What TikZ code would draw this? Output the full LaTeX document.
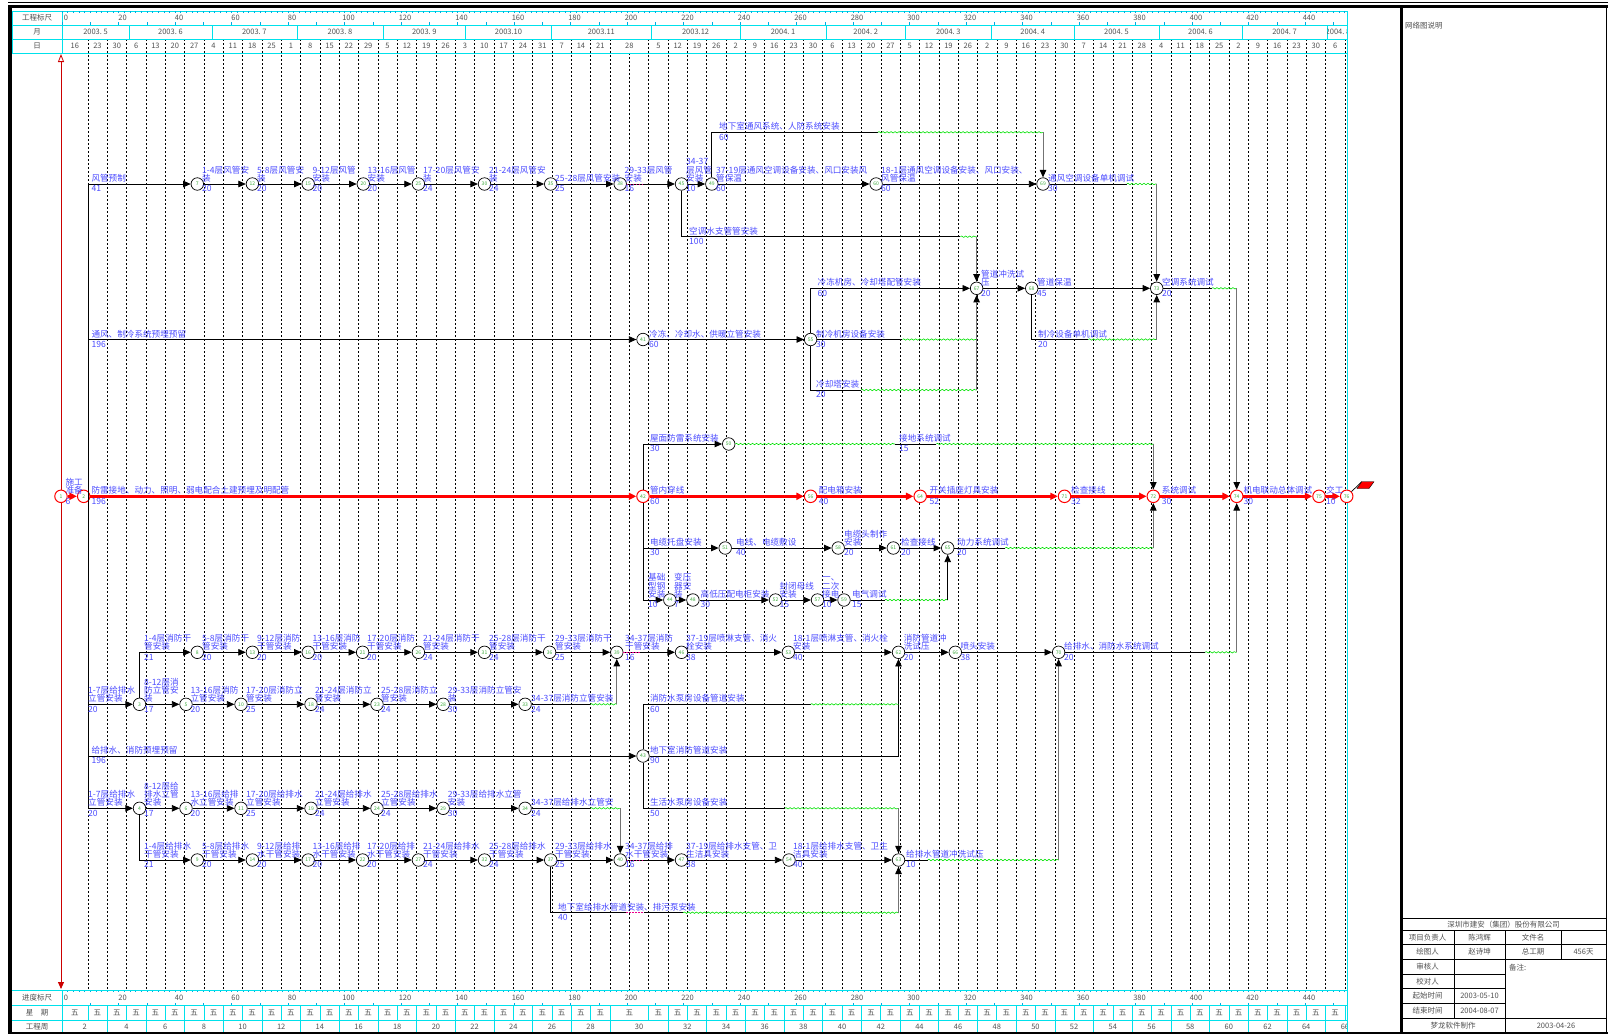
\documentclass[tikz,border=0pt]{standalone}
\usepackage{fontspec}
\setmainfont{Noto Sans CJK SC}
\usetikzlibrary{arrows.meta,decorations.pathmorphing}
\definecolor{lblblue}{RGB}{75,75,255}
\definecolor{numgreen}{RGB}{60,170,60}
\definecolor{slackgreen}{RGB}{0,225,0}
\definecolor{rulecyan}{RGB}{0,225,235}
\definecolor{tickblue}{RGB}{0,170,225}
\definecolor{headgray}{RGB}{80,80,80}
\newcommand\lblfont{\fontsize{8.6}{8.4}\selectfont}
\tikzset{
  evt/.style={circle,draw,fill=white,line width=0.7pt,inner sep=0pt,minimum size=12.5pt,
    font=\fontsize{5}{5}\selectfont,text=numgreen},
  evtr/.style={evt,draw=red,line width=1pt},
  job/.style={line width=0.8pt,-{Triangle[length=7.5pt,width=6.5pt]}},
  jobr/.style={red,line width=2.4pt,-{Triangle[length=7.5pt,width=7pt]}},
  virt/.style={line width=1pt,draw=black!55,-{Triangle[length=7.5pt,width=6.5pt,color=black]}},
  slack/.style={slackgreen,line width=0.6pt,decorate,decoration={snake,amplitude=0.7pt,segment length=4pt}},
  lag/.style={magenta,line width=0.8pt,dash pattern=on 1.5pt off 1.5pt},
  wk/.style={line width=0.5pt,dash pattern=on 2pt off 2pt},
  txt/.style={font=\lblfont,text=lblblue,inner sep=0pt,align=left},
  hd/.style={font=\fontsize{7.5}{8}\selectfont,text=headgray,inner sep=0pt},
}
% label above the arrow and duration below it
\newcommand\act[5]{%
  \node[txt,anchor=south west] (l#1) at (#2,#3-1.5) {#4};
  \node[txt,anchor=north west] (d#1) at (#2,#3+1.5) {#5};}

\begin{document}
\begin{tikzpicture}[x=1pt,y=-1pt]
\useasboundingbox (0,0) rectangle (1608,1034);

% frame
\draw[line width=0.8pt] (8,2.5) -- (1608,2.5);
\draw[line width=3pt] (8,6) -- (1608,6);
\fill (7.6,5) rectangle (12,1034);
\draw[line width=3pt] (1401,6) -- (1401,1034);
\draw[line width=0.6pt] (1606.5,6) -- (1606.5,1034);
\draw[line width=2pt] (8,1033) -- (1608,1033);

% week grid
\foreach \j in {0,...,65}{
  \pgfmathsetmacro\ys{\j==28 ? 53 : 39}
  \draw[wk] ({87.8+19.34*\j},\ys) -- ({87.8+19.34*\j},990.5);
}

% top scale
\draw[rulecyan,line width=0.6pt] (12,11) rectangle (1347,53);
\draw[rulecyan,line width=0.6pt] (12,25) -- (1347,25) (12,39) -- (1347,39) (62,11) -- (62,53);
\node[hd] (h1) at (37,18) {工程标尺};
\node[hd] (h2) at (37,32) {月};
\node[hd] (h3) at (37,46) {日};
\begin{scope}
\clip (62,0) rectangle (1347,1034);
\foreach \d in {0,2,...,460}{
  \draw[tickblue,line width=0.4pt] ({62+2.825*\d},11) -- ++(0,1.8);
  \draw[tickblue,line width=0.4pt] ({62+2.825*\d},990.5) -- ++(0,1.8);
}
\foreach \d in {0,10,...,460}{
  \draw[tickblue,line width=0.4pt] ({62+2.825*\d},25) -- ++(0,-3);
  \draw[tickblue,line width=0.4pt] ({62+2.825*\d},1005.5) -- ++(0,-3);
}
\foreach \d [count=\i] in {0,20,...,460}{
  \node[hd] (rt\i) at ({66+2.825*\d},18) {\d};
  \node[hd] (rb\i) at ({66+2.825*\d},998) {\d};
}
\foreach \m in {129.1,211.8,296.8,383,465.6,551.4,651.2,740,826.1,905.3,991.4,1074,1158.8,1242.2,1327}
  \draw[rulecyan,line width=0.6pt] (\m,25) -- (\m,39);
\foreach \a/\b/\t [count=\i] in {62/129.1/{2003.~5},129.1/211.8/{2003.~6},211.8/296.8/{2003.~7},
    296.8/383/{2003.~8},383/465.6/{2003.~9},465.6/551.4/{2003.10},551.4/651.2/{2003.11},
    651.2/740/{2003.12},740/826.1/{2004.~1},826.1/905.3/{2004.~2},905.3/991.4/{2004.~3},
    991.4/1074/{2004.~4},1074/1158.8/{2004.~5},1158.8/1242.2/{2004.~6},1242.2/1327/{2004.~7}}
  \node[hd] (mo\i) at ({(\a+\b)/2},32) {\t};
\begin{scope}
\clip (1327.5,25) rectangle (1347,39);
\node[hd] (mo16) at (1338,32) {2004.~8};
\end{scope}
\foreach \t [count=\i from 0] in {16,23,30,6,13,20,27,4,11,18,25,1,8,15,22,29,5,12,19,26,
    3,10,17,24,31,7,14,21,28,5,12,19,26,2,9,16,23,30,6,13,20,27,5,12,19,26,2,9,16,23,30,
    7,14,21,28,4,11,18,25,2,9,16,23,30,6,13}{
  \pgfmathsetmacro\cx{\i==0 ? 74.9 : (\i==28 ? 629.3 : (\i<28 ? 78.13+19.34*\i : 78.13+19.34*(\i+1)))}
  \node[hd] (dy\i) at (\cx,46) {\t};
  \node[hd] (wd\i) at (\cx,1013) {五};
}
\foreach \j in {0,...,65}{
  \ifnum\j=28\else\draw[rulecyan,line width=0.6pt] ({87.8+19.34*\j},1005.5) -- ({87.8+19.34*\j},1020);\fi
}
\foreach \j in {1,3,...,27,30,32,...,64}
  \draw[rulecyan,line width=0.6pt] ({87.8+19.34*\j},1020) -- ({87.8+19.34*\j},1032);
\foreach \k in {1,...,33}{
  \pgfmathsetmacro\cx{\k==1 ? 84.6 : (\k<15 ? 87.8+38.68*(\k-1) : (\k==15 ? 639 : 87.8+19.34*(2*\k-1)))}
  \pgfmathtruncatemacro\w{2*\k}
  \node[hd] (gz\k) at (\cx,1026.5) {\w};
}
\end{scope}

% bottom scale
\draw[rulecyan,line width=0.6pt] (12,990.5) -- (1347,990.5) (12,1005.5) -- (1347,1005.5)
  (12,1020) -- (1347,1020) (62,990.5) -- (62,1032) (1347,11) -- (1347,1032);
\node[hd] (b1) at (37,998) {进度标尺};
\node[hd] (b2) at (37,1013) {星\quad 期};
\node[hd] (b3) at (37,1026.5) {工程周};

% progress line
\coordinate (pgTop) at (61,54);
\coordinate (pgBot) at (61,989);
\draw[red!80!black,line width=0.8pt,{Triangle[open,length=8pt,width=6pt]}-{Triangle[length=7pt,width=6pt]}] (pgTop) -- (pgBot);

% events
\foreach \n/\x/\y in {7/197.3/184,12/252.4/184,15/308.2/184,20/363.3/184,25/418.4/184,30/484.5/184,
    35/550.7/184,38/620.2/184,45/681.5/184,49/711.8/184,60/876.1/184,69/1043/184,
    67/976.6/288.3,68/1031.7/288.3,73/1156.7/288.3,41/643/339.5,55/810.6/339.5,
    50/728.7/444,51/725.2/548,58/838.2/548,61/893.3/548,65/947.7/548,
    44/669.8/600,48/692.9/600,52/775.5/600,57/817.5/600,59/844/600,
    8/197.3/652.3,13/252.4/652.3,16/308.2/652.3,21/362.6/652.3,26/418.4/652.3,31/484.5/652.3,
    36/549.6/652.3,39/616.8/652.3,46/681.5/652.3,53/788.3/652.3,62/898.5/652.3,66/955.3/652.3,
    70/1058.6/652.3,
    3/139.5/704.3,5/186/704.3,10/241/704.3,18/311/704.3,23/377/704.3,28/443.2/704.3,33/525.1/704.3,
    43/643/756,
    4/139.5/808.3,6/186/808.3,11/241/808.3,19/311/808.3,24/377/808.3,29/443.2/808.3,34/525.1/808.3,
    9/197.3/860,14/252.4/860,17/308.2/860,22/362.6/860,27/418.4/860,32/484.5/860,
    37/550.7/860,40/620.2/860,47/681.5/860,54/789/860,63/898.5/860}
  \node[evt] (n\n) at (\x,\y) {\n};
\foreach \n/\x in {1/61,2/83.7,42/643,56/810.6,64/920.2,71/1064.5,72/1153.3,74/1236.7,75/1319,76/1346.7}
  \node[evtr] (n\n) at (\x,496.3) {\n};

% trunk
\coordinate (tkA) at (88,184);
\coordinate (tkB) at (88,339.5);
\coordinate (tkC) at (88,704.3);
\coordinate (tkD) at (88,756);
\coordinate (tkZ) at (88,808.3);
\draw[line width=0.8pt] (tkA) -- (tkZ);
\draw[job] (tkA) -- (n7);
\draw[job] (tkB) -- (n41);
\draw[job] (tkC) -- (n3);
\draw[job] (tkD) -- (n43);
\draw[job] (tkZ) -- (n4);

% air ducts
\foreach \a/\b in {7/12,12/15,15/20,20/25,25/30,30/35,35/38,38/45,45/49,49/60,60/69,41/55,67/68,68/73}
  \draw[job] (n\a) -- (n\b);
\draw[lag] (n38.east) -- ++(17,0);
\coordinate (au1) at (877.8,132.3);
\coordinate (au2) at (1043,132.3);
\draw[line width=0.8pt] (n49) |- (au1);
\draw[slack] (au1) -- (au2);
\draw[virt] (au2) -- (n69);
\coordinate (ab1) at (1126.7,184);
\coordinate (ab2) at (1156.7,184);
\draw[line width=0.8pt] (n69) -- (ab1);
\draw[slack] (ab1) -- (ab2);
\draw[virt] (ab2) -- (n73);
\coordinate (aw1) at (960.4,236.7);
\coordinate (aw2) at (976.6,236.7);
\draw[line width=0.8pt] (n45) |- (aw1);
\draw[slack] (aw1) -- (aw2);
\draw[virt] (aw2) -- (n67);
\draw[job] (n55) |- (n67);
\coordinate (cj1) at (902.4,339.5);
\coordinate (cj2) at (976.6,339.5);
\draw[line width=0.8pt] (n55) -- (cj1);
\draw[slack] (cj1) -- (cj2);
\draw[virt] (cj2) -- (n67);
\coordinate (ct1) at (861,390);
\coordinate (ct2) at (976.6,390);
\draw[line width=0.8pt] (n55) |- (ct1);
\draw[slack] (ct1) -- (ct2);
\draw[line width=1pt,black!55] (ct2) -- (cj2);
\coordinate (zl1) at (1088.3,339.5);
\coordinate (zl2) at (1156.7,339.5);
\draw[line width=0.8pt] (n68) |- (zl1);
\draw[slack] (zl1) -- (zl2);
\draw[virt] (zl2) -- (n73);
\coordinate (kt1) at (1211.7,288.3);
\coordinate (kt2) at (1236.7,288.3);
\draw[line width=0.8pt] (n73) -- (kt1);
\draw[slack] (kt1) -- (kt2);
\draw[virt] (kt2) -- (n74);

% electrical
\foreach \a/\b in {1/2,2/42,42/56,56/64,64/71,71/72,72/74,74/75,75/76}
  \draw[jobr] (n\a) -- (n\b);
\draw[job] (n42) |- (n50);
\draw[job] (n42) |- (n51);
\draw[job] (n42) |- (n44);
\foreach \a/\b in {51/58,58/61,61/65,44/48,48/52,52/57,57/59}
  \draw[job] (n\a) -- (n\b);
\coordinate (jd0) at (895,444);
\coordinate (jd1) at (936.3,444);
\coordinate (jd2) at (1153.3,444);
\draw[slack] (n50.east) -- (jd0);
\draw[line width=0.8pt] (jd0) -- (jd1);
\draw[slack] (jd1) -- (jd2);
\draw[virt] (jd2) -- (n72);
\coordinate (dl1) at (1005.2,548);
\coordinate (dl2) at (1153.3,548);
\draw[line width=0.8pt] (n65) -- (dl1);
\draw[slack] (dl1) -- (dl2);
\draw[virt] (dl2) -- (n72);
\coordinate (dq1) at (884.7,600);
\coordinate (dq2) at (947.7,600);
\draw[line width=0.8pt] (n59) -- (dq1);
\draw[slack] (dq1) -- (dq2);
\draw[job] (dq2) -- (n65);
\coordinate (fp) at (1361.7,481.7);
\draw[line width=0.7pt] (n76) -- (fp);
\filldraw[fill=red,draw=black,line width=0.4pt] (1361.7,481.7) -- (1374,481.7) -- (1369,488.5) -- (1357,488.5) -- cycle;

% fire and water
\foreach \a/\b in {3/5,5/10,10/18,18/23,23/28,28/33,
    8/13,13/16,16/21,21/26,26/31,31/36,36/39,39/46,46/53,53/62,62/66,66/70,
    4/6,6/11,11/19,19/24,24/29,29/34,
    9/14,14/17,17/22,22/27,27/32,32/37,37/40,40/47,47/54,54/63}
  \draw[job] (n\a) -- (n\b);
\draw[job] (n3) |- (n8);
\draw[job] (n4) |- (n9);
\draw[lag] (n39.east) -- ++(17,0);
\draw[lag] (n40.east) -- ++(17,0);
\coordinate (xf1) at (590.3,704.3);
\coordinate (xf2) at (616.8,704.3);
\draw[line width=0.8pt] (n33) -- (xf1);
\draw[slack] (xf1) -- (xf2);
\draw[virt] (xf2) -- (n39);
\coordinate (xw1) at (590.3,808.3);
\coordinate (xw2) at (620.2,808.3);
\draw[line width=0.8pt] (n34) -- (xw1);
\draw[slack] (xw1) -- (xw2);
\draw[virt] (xw2) -- (n40);
\coordinate (gx1) at (1205,652.3);
\coordinate (gx2) at (1236.7,652.3);
\draw[line width=0.8pt] (n70) -- (gx1);
\draw[slack] (gx1) -- (gx2);
\draw[virt] (gx2) -- (n74);
\draw[job] (n43) -| (n62);
\coordinate (xs1) at (810.6,704.3);
\coordinate (xs2) at (898.5,704.3);
\draw[line width=0.8pt] (n43) |- (xs1);
\draw[slack] (xs1) -- (xs2);
\coordinate (sh1) at (784.8,808.3);
\coordinate (sh2) at (898.5,808.3);
\draw[line width=0.8pt] (n43) |- (sh1);
\draw[slack] (sh1) -- (sh2);
\draw[virt] (sh2) -- (n63);
\coordinate (gp1) at (927.7,860);
\coordinate (gp2) at (1058.6,860);
\draw[line width=0.8pt] (n63) -- (gp1);
\draw[slack] (gp1) -- (gp2);
\draw[virt] (gp2) -- (n70);
\coordinate (bs1) at (626.4,912.7);
\coordinate (bs2) at (643.6,912.7);
\coordinate (bs3) at (683.2,912.7);
\coordinate (bs4) at (898.5,912.7);
\draw[line width=0.8pt] (n37) |- (bs1);
\draw[lag] (bs1) -- (bs2);
\draw[line width=0.8pt] (bs2) -- (bs3);
\draw[slack] (bs3) -- (bs4);
\draw[virt] (bs4) -- (n63);

% labels
\act{fg}{91.3}{184}{风管预制}{41}
\act{7}{202}{184}{1-4层风管安\\装}{20}
\act{12}{257}{184}{5-8层风管安\\装}{20}
\act{15}{312.5}{184}{9-12层风管\\安装}{20}
\act{20}{367.5}{184}{13-16层风管\\安装}{20}
\act{25}{423}{184}{17-20层风管安\\装}{24}
\act{30}{489}{184}{21-24层风管安\\装}{24}
\act{35}{555}{184}{25-28层风管安装}{25}
\act{38}{624.5}{184}{29-33层风管\\安装}{16}
\act{45}{686}{184}{34-37\\层风管\\安装}{10}
\act{49}{716}{184}{37-19层通风空调设备安装、风口安装风\\管保温}{60}
\act{60}{881}{184}{18-1层通风空调设备安装、风口安装、\\风管保温}{60}
\act{69}{1048}{184}{通风空调设备单机调试}{30}
\act{49u}{719}{132.3}{地下室通风系统、人防系统安装}{60}
\act{45d}{689}{236.7}{空调水支管管安装}{100}
\act{55u}{817.5}{288.3}{冷冻机房、冷却塔配管安装}{60}
\act{67}{981}{288.3}{管道冲洗试\\压}{20}
\act{68}{1037}{288.3}{管道保温}{45}
\act{73}{1162}{288.3}{空调系统调试}{20}
\act{tf}{91.3}{339.5}{通风、制冷系统预埋预留}{196}
\act{41}{649}{339.5}{冷冻、冷却水、供暖立管安装}{60}
\act{55}{816}{339.5}{制冷机房设备安装}{30}
\act{68d}{1038}{339.5}{制冷设备单机调试}{20}
\act{55d}{816}{390}{冷却塔安装}{20}
\act{1}{65.4}{496.3}{施工\\准备}{6}
\act{2}{91.3}{496.3}{防雷接地、动力、照明、弱电配合土建预埋及明配管}{196}
\act{42}{649.8}{496.3}{管内穿线}{60}
\act{56}{818.6}{496.3}{配电箱安装}{40}
\act{64}{929.4}{496.3}{开关插座灯具安装}{52}
\act{71}{1071}{496.3}{检查接线}{32}
\act{72}{1161.7}{496.3}{系统调试}{30}
\act{74}{1243.3}{496.3}{机电联动总体调试}{30}
\act{75}{1326}{496.3}{交工}{10}
\act{42u}{649.8}{444}{屋面防雷系统安装}{30}
\act{50}{899}{444}{接地系统调试}{15}
\act{42d}{649.8}{548}{电缆托盘安装}{30}
\act{51}{736}{548}{电线、电缆敷设}{40}
\act{58}{844}{548}{电缆头制作\\安装}{20}
\act{61}{901}{548}{检查接线}{20}
\act{65}{957}{548}{动力系统调试}{20}
\act{42b}{648}{600}{基础\\型钢\\安装}{10}
\act{44}{674}{600}{变压\\器安\\装}{7}
\act{48}{700.5}{600}{高低压配电柜安装}{30}
\act{52}{779.3}{600}{封闭母线\\安装}{15}
\act{57}{822}{600}{一、\\二次\\接电}{10}
\act{59}{852}{600}{电气调试}{15}
\act{3u}{144}{652.3}{1-4层消防干\\管安装}{21}
\act{8}{202}{652.3}{5-8层消防干\\管安装}{20}
\act{13}{257}{652.3}{9-12层消防\\干管安装}{20}
\act{16}{312.5}{652.3}{13-16层消防\\干管安装}{20}
\act{21}{367}{652.3}{17-20层消防\\干管安装}{20}
\act{26}{423}{652.3}{21-24层消防干\\管安装}{24}
\act{31}{489}{652.3}{25-28层消防干\\管安装}{24}
\act{36}{555}{652.3}{29-33层消防干\\管安装}{25}
\act{39}{625}{652.3}{34-37层消防\\干管安装}{16}
\act{46}{686}{652.3}{37-19层喷淋支管、消火\\栓安装}{38}
\act{53}{793}{652.3}{18-1层喷淋支管、消火栓\\安装}{40}
\act{62}{903.6}{652.3}{消防管道冲\\洗试压}{20}
\act{66}{960.4}{652.3}{喷头安装}{38}
\act{70}{1064}{652.3}{给排水、消防水系统调试}{20}
\act{xf}{88}{704.3}{1-7层给排水\\立管安装}{20}
\act{3}{144}{704.3}{8-12层消\\防立管安\\装}{17}
\act{5}{190.4}{704.3}{13-16层消防\\立管安装}{20}
\act{10}{246}{704.3}{17-20层消防立\\管安装}{25}
\act{18}{315}{704.3}{21-24层消防立\\管安装}{24}
\act{23}{381}{704.3}{25-28层消防立\\管安装}{24}
\act{28}{447.7}{704.3}{29-33层消防立管安\\装}{30}
\act{33}{531}{704.3}{34-37层消防立管安装}{24}
\act{43u}{649.8}{704.3}{消防水泵房设备管道安装}{60}
\act{yl}{91.3}{756}{给排水、消防预埋预留}{196}
\act{43}{649.8}{756}{地下室消防管道安装}{90}
\act{xw}{88}{808.3}{1-7层给排水\\立管安装}{20}
\act{4}{144}{808.3}{8-12层给\\排水立管\\安装}{17}
\act{6}{190.4}{808.3}{13-16层给排\\水立管安装}{20}
\act{11}{246}{808.3}{17-20层给排水\\立管安装}{25}
\act{19}{315}{808.3}{21-24层给排水\\立管安装}{24}
\act{24}{381}{808.3}{25-28层给排水\\立管安装}{24}
\act{29}{447.7}{808.3}{29-33层给排水立管\\安装}{30}
\act{34}{531}{808.3}{34-37层给排水立管安}{24}
\act{43d}{649.8}{808.3}{生活水泵房设备安装}{50}
\act{4d}{144}{860}{1-4层给排水\\干管安装}{21}
\act{9}{202}{860}{5-8层给排水\\干管安装}{20}
\act{14}{257}{860}{9-12层给排\\水干管安装}{20}
\act{17}{312.5}{860}{13-16层给排\\水干管安装}{20}
\act{22}{367}{860}{17-20层给排\\水干管安装}{20}
\act{27}{423}{860}{21-24层给排水\\干管安装}{24}
\act{32}{489}{860}{25-28层给排水\\干管安装}{24}
\act{37}{555}{860}{29-33层给排水\\干管安装}{25}
\act{40}{625}{860}{34-37层给排\\水干管安装}{16}
\act{47}{686}{860}{37-19层给排水支管、卫\\生洁具安装}{38}
\act{54}{793}{860}{18-1层给排水支管、卫生\\洁具安装}{40}
\act{63}{906}{860}{给排水管道冲洗试压}{10}
\act{37d}{558}{912.7}{地下室给排水管道安装、排污泵安装}{40}

% side panel
\node[hd,anchor=west] (expl) at (1405,26) {网络图说明};
\draw[line width=0.6pt] (1401,918) -- (1606,918);
\foreach \y in {930.5,944.5,959.5,974,988.5,1003,1018}
  \draw[line width=0.5pt] (1401,\y) -- (1505,\y);
\draw[line width=0.5pt] (1505,930.5) -- (1606,930.5) (1505,944.5) -- (1606,944.5) (1505,959.5) -- (1606,959.5)
  (1505,1018) -- (1606,1018);
\draw[line width=0.5pt] (1454,930.5) -- (1454,1018) (1505,930.5) -- (1505,1033) (1561,930.5) -- (1561,959.5);
\node[hd] (co) at (1503.5,924.3) {深圳市建安（集团）股份有限公司};
\node[hd] (p1) at (1427.5,937.5) {项目负责人};
\node[hd] (p2) at (1479.5,937.5) {陈鸿辉};
\node[hd] (p3) at (1533,937.5) {文件名};
\node[hd] (q1) at (1427.5,952) {绘图人};
\node[hd] (q2) at (1479.5,952) {赵诗坤};
\node[hd] (q3) at (1533,952) {总工期};
\node[hd] (q4) at (1583.5,952) {456天};
\node[hd] (r1) at (1427.5,966.8) {审核人};
\node[hd,anchor=west] (r3) at (1509,968) {备注:};
\node[hd] (s1) at (1427.5,981.3) {校对人};
\node[hd] (t1) at (1427.5,995.8) {起始时间};
\node[hd] (t2) at (1479.5,995.8) {2003-05-10};
\node[hd] (u1) at (1427.5,1010.5) {结束时间};
\node[hd] (u2) at (1479.5,1010.5) {2004-08-07};
\node[hd] (v1) at (1453,1025.5) {梦龙软件制作};
\node[hd] (v2) at (1556,1025.5) {2003-04-26};
\end{tikzpicture}
\end{document}
